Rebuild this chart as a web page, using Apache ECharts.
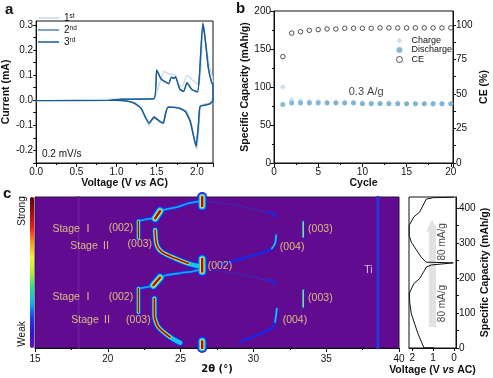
<!DOCTYPE html>
<html>
<head>
<meta charset="utf-8">
<style>
  html, body { margin: 0; padding: 0; background: #fff; }
  #main { width: 493px; height: 378px; }
</style>
<script src="https://cdn.jsdelivr.net/npm/echarts@6/dist/echarts.min.js"></script>
</head>
<body>
<div id="main"></div>
<script>
// panel a: CV curves [V, mA]
const cvCycle1 = [[0,-0.003],[0.3,0],[0.5,0.002],[0.8,0.003],[1.1,0.005],[1.3,0.005],[1.466,0.006],[1.53,0.06],[1.59,0.114],[1.65,0.105],[1.733,0.101],[1.775,0.06],[1.82,0.055],[1.876,0.1],[1.94,0.081],[2.02,0.061],[2.05,0.13],[2.075,0.3],[2.1,0.25],[2.155,0.134],[2.19,0.094],[2.2,0.02],[2.17,-0.01],[2.05,-0.02],[2.03,-0.09],[2.0,-0.197],[1.975,-0.165],[1.93,-0.09],[1.87,-0.042],[1.79,-0.03],[1.65,-0.026],[1.62,-0.05],[1.59,-0.09],[1.54,-0.083],[1.47,-0.065],[1.405,-0.103],[1.37,-0.075],[1.31,-0.03],[1.22,-0.01],[1.1,-0.002],[0.9,0]]
const cvCycle2 = [[0.9,0],[1.057,0.003],[1.466,0.006],[1.5,0.118],[1.556,0.084],[1.65,0.066],[1.68,0.09],[1.715,0.086],[1.733,0.092],[1.786,0.045],[1.835,0.035],[1.876,0.068],[1.94,0.042],[2.008,0.034],[2.03,0.09],[2.073,0.303],[2.1,0.25],[2.142,0.128],[2.184,0.07],[2.2,0.066],[2.2,0.002],[2.163,-0.015],[2.04,-0.025],[2.02,-0.09],[1.99,-0.18],[1.967,-0.155],[1.917,-0.085],[1.856,-0.045],[1.775,-0.032],[1.64,-0.028],[1.61,-0.052],[1.582,-0.09],[1.536,-0.083],[1.466,-0.067],[1.405,-0.09],[1.364,-0.07],[1.303,-0.032],[1.22,-0.012],[1.098,-0.003],[0.934,0]]
const cvCycle3 = [[0,-0.002],[0.934,-0.001],[1.057,0.004],[1.466,0.006],[1.5,0.12],[1.556,0.084],[1.65,0.065],[1.68,0.092],[1.715,0.088],[1.733,0.094],[1.786,0.044],[1.835,0.034],[1.876,0.07],[1.94,0.041],[2.008,0.033],[2.03,0.094],[2.073,0.307],[2.1,0.253],[2.142,0.127],[2.184,0.068],[2.2,0.065],[2.2,0],[2.163,-0.015],[2.04,-0.025],[2.02,-0.092],[1.99,-0.185],[1.967,-0.158],[1.917,-0.085],[1.856,-0.045],[1.775,-0.032],[1.64,-0.028],[1.61,-0.052],[1.582,-0.092],[1.536,-0.085],[1.466,-0.068],[1.405,-0.092],[1.364,-0.072],[1.303,-0.032],[1.22,-0.012],[1.098,-0.002],[0.934,0]]

// panel b: cycling
const cycles = [1,2,3,4,5,6,7,8,9,10,11,12,13,14,15,16,17,18,19,20]
const chargeCap = [100,83,82,81,81,80,80,80,80,79,79,79,79,79,78,78,78,78,78,78]
const dischargeCap = [77,79,79,79,79,79,79,79,79,78,78,78,78,78,78,78,78,78,78,78]
const coulombic = [77,94,95,96,96.5,97,97,97.5,97.5,97.5,97.5,97.8,97.8,97.8,97.8,97.8,97.8,97.8,97.8,97.8]

// panel c: ridges of the contour map [2theta, capacity]
const peak002Top = [[26.48,431],[26.48,405]]
const peak002Mid = [[26.48,254],[26.48,218]]
const peak002Bot = [[26.48,19],[26.48,0]]
const stage1Top = [[22.1,362],[22.1,314]]
const stage1Low = [[22.1,170],[22.1,102]]
const stage2Top = [[23.25,337],[23.36,294],[23.71,274],[24.62,256],[25.54,241],[26.2,234]]
const stage2Low = [[23.2,141],[23.2,93],[23.47,60],[24.28,31],[24.97,15]]
const blobTop = [[23.59,391],[23.25,370]]
const blobLow = [[23.59,201],[23.13,179]]
const bridgeTop = [[23.25,370],[22.68,368],[22.1,362]]
const bridgeLow = [[23.13,179],[22.68,174],[22.1,170]]
const arcTop = [[23.59,391],[24.14,397],[24.83,403],[25.52,413],[26.48,420]]
const arcLow = [[23.59,201],[24.05,208],[25.0,214],[25.86,219],[26.48,225]]
const faintTop = [[26.5,420],[27.71,413],[28.86,408],[29.98,397],[31.15,385]]
const faintLow = [[26.5,225],[27.71,219],[28.86,213],[29.98,203],[31.15,191]]
const blob31Top = [[31.1,388],[31.5,378]]
const blob31Low = [[31.1,194],[31.5,184]]
const peak003Top = [[33.42,360],[33.42,317]]
const peak003Low = [[33.42,165],[33.42,117]]
const line004Top = [[31.56,322],[31.49,299],[31.27,284],[30.46,270],[28.86,251],[27.71,238]]
const line004Low = [[31.61,112],[31.49,74],[31.27,57],[30.46,41],[29.09,17]]
const tiLine = [[38.55,0],[38.55,431]]
const faintLine18 = [[18,0],[18,431]]

const mapLabels = [
  [17.6,340,'Stage Ⅰ'],[18.83,291,'Stage Ⅱ'],[20.9,342,'(002)'],[22.2,296,'(003)'],
  [17.6,144,'Stage Ⅰ'],[18.9,79,'Stage Ⅱ'],[20.9,144,'(002)'],[22.1,81,'(003)'],
  [27.7,235,'(002)'],[34.6,339,'(003)'],[32.66,289,'(004)'],[34.6,141,'(003)'],[32.85,81,'(004)']
]
const tiLabel = [[37.9,222,'Ti']]

// panel d: galvanostatic curve [V, capacity]
const voltageCurve = [[0.956,0.5],[1.44,0.5],[1.73,41],[2.05,98],[2.12,127],[2.15,155],[1.93,184],[1.65,198],[1.41,222],[1.33,231],[1.08,237],[0.03,243],[1.33,245],[1.57,259],[2.05,302],[2.15,321],[2.15,350],[1.93,374],[1.65,388],[1.33,425],[1.0,429],[0,430.5]]
const rateLabels = [[0.54,303,'80 mA/g'],[0.54,127,'80 mA/g']]
const arrowFrom = [1.05,60]
const arrowTo = [1.05,350]

const colorbarColors = ['#6a10c0','#3010d0','#1a3cf0','#12b4ea','#2fd88a','#b6ea3a','#f8f030','#f89a20','#f01818','#a00c0c','#5a0606']

const sans = '"Liberation Sans", Arial, sans-serif'

function axisStyle(extra) {
  return Object.assign({
    axisLine: { show: true, onZero: false, lineStyle: { color: '#111', width: 1 } },
    axisTick: { show: true, length: 4, lineStyle: { color: '#111' } },
    axisLabel: { color: '#111', fontSize: 10, fontFamily: sans, margin: 3 },
    splitLine: { show: false },
    nameLocation: 'middle',
    nameTextStyle: { color: '#111', fontSize: 10.5, fontWeight: 'bold', fontFamily: sans }
  }, extra)
}

const voltageRich = { color: '#111', fontSize: 10.5, fontFamily: sans, rich: {
  n: { fontSize: 10.5, fontWeight: 'bold', fontFamily: sans, color: '#111' },
  i: { fontSize: 10.5, fontWeight: 'bold', fontStyle: 'italic', fontFamily: sans, color: '#111' }
} }
const voltageName = '{n|Voltage (V }{i|vs}{n| AC)}'

function merged(extra, ticks) {
  let a = axisStyle(extra)
  a.axisTick = Object.assign({}, a.axisTick, ticks.tick ? { customValues: ticks.tick, length: 3 } : {})
  a.axisLabel = Object.assign({}, a.axisLabel, ticks.label ? { customValues: ticks.label } : {}, extra.labelExtra || {})
  return a
}

let series = []

// panel a
series.push({ name: '1st', type: 'line', xAxisIndex: 0, yAxisIndex: 0, data: cvCycle1, smooth: 0.15, symbol: 'none', lineStyle: { color: '#c6d9ea', width: 1.3 }, itemStyle: { color: '#c6d9ea' }, z: 2 })
series.push({ name: '2nd', type: 'line', xAxisIndex: 0, yAxisIndex: 0, data: cvCycle2, smooth: 0.15, symbol: 'none', lineStyle: { color: '#4a87ba', width: 1.3 }, itemStyle: { color: '#4a87ba' }, z: 3 })
series.push({ name: '3rd', type: 'line', xAxisIndex: 0, yAxisIndex: 0, data: cvCycle3, smooth: 0.15, symbol: 'none', lineStyle: { color: '#195a94', width: 1.3 }, itemStyle: { color: '#195a94' }, z: 4 })

// panel b
series.push({ name: 'Charge', type: 'scatter', xAxisIndex: 1, yAxisIndex: 1, symbol: 'diamond', symbolSize: 6, data: cycles.map((c, i) => [c, chargeCap[i]]), itemStyle: { color: '#c3d8ec' }, z: 2 })
series.push({ name: 'Discharge', type: 'scatter', xAxisIndex: 1, yAxisIndex: 1, symbol: 'circle', symbolSize: 5, data: cycles.map((c, i) => [c, dischargeCap[i]]), itemStyle: { color: '#6ba9d0' }, z: 3 })
series.push({ name: 'CE', type: 'scatter', xAxisIndex: 1, yAxisIndex: 2, symbol: 'circle', symbolSize: 4.5, data: cycles.map((c, i) => [c, coulombic[i]]), itemStyle: { color: '#fff', borderColor: '#111', borderWidth: 0.9 }, z: 4 })
series.push({ type: 'scatter', xAxisIndex: 1, yAxisIndex: 1, symbolSize: 0, silent: true, data: [[12.4,93,'0.3 A/g']],
  label: { show: true, position: 'left', distance: 0, color: '#111', fontSize: 11, fontFamily: sans, formatter: p => p.value[2] } })

// panel c, the map is stacked coloured strokes: blue outside, dark red in the core
function ridge(points, color, width, z) {
  series.push({ type: 'line', xAxisIndex: 2, yAxisIndex: 3, data: points, symbol: 'none', silent: true, smooth: 0.25,
    lineStyle: { color: color, width: width, cap: 'round', join: 'round' }, z: z })
}
const bigBlobs = [peak002Top, peak002Mid, peak002Bot, blobTop, blobLow]
const stageTwo = [stage2Top, stage2Low]
const stageOne = [stage1Top, stage1Low]
const coolLinks = [arcTop, arcLow, bridgeTop, bridgeLow]

ridge(faintLine18, '#6c1c9a', 2, 2)
ridge(tiLine, '#2a35d8', 3, 2)
;[faintTop, faintLow].forEach(s => ridge(s, '#4a20a8', 1.6, 3))
;[line004Top, line004Low, peak003Top, peak003Low, blob31Top, blob31Low].forEach(s => ridge(s, '#2323dc', 3, 3))
coolLinks.forEach(s => ridge(s, '#2323e0', 4, 4))
coolLinks.forEach(s => ridge(s, '#1aa4ea', 1.8, 5))
// outer blue
bigBlobs.forEach(s => ridge(s, '#2323e0', 10, 4))
stageTwo.forEach(s => ridge(s, '#2323e0', 7, 4))
stageOne.forEach(s => ridge(s, '#2323e0', 6, 4))
// cyan and green
bigBlobs.forEach(s => ridge(s, '#18c4e6', 7, 5))
stageTwo.forEach(s => ridge(s, '#18c4e6', 4.6, 5))
stageOne.forEach(s => ridge(s, '#18c4e6', 3.6, 5))
;[peak003Top, peak003Low].forEach(s => ridge(s, '#2fd0c8', 1.6, 5))
ridge(line004Top.slice(0, 3), '#22b8e8', 1.8, 5)
ridge(line004Low.slice(0, 2), '#22b8e8', 1.8, 5)
// yellow
bigBlobs.forEach(s => ridge(s, '#eeea3c', 4.4, 6))
ridge(stage2Top.slice(0, 5), '#eeea3c', 3, 6)
ridge(stage2Low.slice(0, 4), '#eeea3c', 3, 6)
stageOne.forEach(s => ridge(s, '#eeea3c', 2.4, 6))
ridge(peak003Top, '#c8e850', 0.8, 6)
ridge(peak003Low, '#c8e850', 0.8, 6)
// dark red core
bigBlobs.forEach(s => ridge(s, '#a30d0d', 2.4, 7))
ridge(stage2Top.slice(0, 5), '#a30d0d', 1.6, 7)
ridge(stage2Low.slice(0, 4), '#a30d0d', 1.8, 7)
stageOne.forEach(s => ridge(s, '#8f1010', 1.4, 7))

series.push({ type: 'scatter', xAxisIndex: 2, yAxisIndex: 3, symbolSize: 0, silent: true, data: mapLabels, z: 10,
  label: { show: true, position: 'inside', color: '#f6e27a', fontSize: 10.5, fontFamily: sans + ', "Noto Sans CJK SC"', formatter: p => p.value[2] } })
series.push({ type: 'scatter', xAxisIndex: 2, yAxisIndex: 3, symbolSize: 0, silent: true, data: tiLabel, z: 10,
  label: { show: true, position: 'inside', color: '#f0f0f0', fontSize: 10.5, fontFamily: sans, formatter: p => p.value[2] } })

// panel d
series.push({ type: 'line', xAxisIndex: 3, yAxisIndex: 4, data: voltageCurve, symbol: 'none', silent: true,
  lineStyle: { color: '#111', width: 1 }, z: 3,
  markLine: { silent: true, animation: false, symbol: ['none', 'triangle'], symbolSize: [12, 12], label: { show: false },
    lineStyle: { color: '#e2e2e2', width: 7, type: 'solid' }, z: 1,
    data: [[{ coord: arrowFrom }, { coord: arrowTo }]] } })
series.push({ type: 'scatter', xAxisIndex: 3, yAxisIndex: 4, symbolSize: 0, silent: true, data: rateLabels,
  label: { show: true, position: 'inside', rotate: 90, color: '#111', fontSize: 10, fontFamily: sans, formatter: p => p.value[2] } })

// colour bar only
series.push({ type: 'scatter', xAxisIndex: 2, yAxisIndex: 3, data: [], silent: true })
const colorbarSeries = series.length - 1

const option = {
  animation: false,
  backgroundColor: '#fff',
  textStyle: { fontFamily: sans },
  grid: [
    { left: 34, top: 21, width: 179, height: 142, show: true, borderColor: '#111', borderWidth: 1, backgroundColor: 'transparent' },
    { left: 274, top: 11, width: 179, height: 152, show: true, borderColor: '#111', borderWidth: 1, backgroundColor: 'transparent' },
    { left: 35, top: 197, width: 364, height: 151, show: true, borderColor: '#2a1040', borderWidth: 1, backgroundColor: '#610c90' },
    { left: 409, top: 197, width: 47, height: 151, show: true, borderColor: '#111', borderWidth: 1, backgroundColor: 'transparent' }
  ],
  xAxis: [
    axisStyle({ gridIndex: 0, type: 'value', min: 0, max: 2.2, interval: 0.5, minorTick: { show: true, splitNumber: 2, length: 2 },
      name: voltageName, nameGap: 14, nameTextStyle: voltageRich, axisLabel: { color: '#111', fontSize: 10, fontFamily: sans, margin: 4, formatter: v => v.toFixed(1), showMaxLabel: false } }),
    axisStyle({ gridIndex: 1, type: 'value', min: 0, max: 20.25, interval: 5, minorTick: { show: true, splitNumber: 2, length: 2 }, name: 'Cycle', nameGap: 14, axisLabel: { color: '#111', fontSize: 10, fontFamily: sans, margin: 4, showMaxLabel: false } }),
    axisStyle({ gridIndex: 2, type: 'value', min: 15, max: 40, interval: 5, minorTick: { show: true, splitNumber: 2, length: 2 }, name: '2θ (°)', nameGap: 16, nameTextStyle: { color: '#111', fontSize: 10, fontWeight: 'bold', fontFamily: '"DejaVu Sans", sans-serif' }, axisLabel: { color: '#111', fontSize: 10, fontFamily: sans, margin: 6 } }),
    merged({ gridIndex: 3, type: 'value', inverse: true, min: -0.1, max: 2.16, name: voltageName, nameGap: 17, nameTextStyle: voltageRich, labelExtra: { margin: 5 } }, { tick: [0, 1, 2], label: [0, 1, 2] })
  ],
  yAxis: [
    merged({ gridIndex: 0, type: 'value', min: -0.25, max: 0.315, name: 'Current (mA)', nameGap: 18,
      labelExtra: { formatter: v => v.toFixed(1) } },
      { tick: [-0.25,-0.2,-0.15,-0.1,-0.05,0,0.05,0.1,0.15,0.2,0.25,0.3], label: [-0.2,-0.1,0,0.1,0.2,0.3] }),
    axisStyle({ gridIndex: 1, type: 'value', min: 0, max: 200, interval: 50, minorTick: { show: true, splitNumber: 2, length: 2 }, name: 'Specific Capacity (mAh/g)', nameGap: 22 }),
    merged({ gridIndex: 1, type: 'value', position: 'right', min: 0, max: 110, name: 'CE (%)', nameGap: 26 },
      { tick: [0,12.5,25,37.5,50,62.5,75,87.5,100], label: [0,25,50,75,100] }),
    { gridIndex: 2, type: 'value', min: 0, max: 431, show: false, splitLine: { show: false } },
    merged({ gridIndex: 3, type: 'value', position: 'right', min: 0, max: 431, name: 'Specific Capacity (mAh/g)', nameGap: 21 },
      { tick: [0,50,100,150,200,250,300,350,400], label: [0,100,200,300,400] })
  ],
  legend: [
    { data: ['1st','2nd','3rd'], left: 38, top: 13, orient: 'vertical', icon: 'rect', itemWidth: 21, itemHeight: 1.5, itemGap: 2, padding: 0,
      textStyle: { color: '#111', fontSize: 10, fontFamily: sans,
        rich: { b: { fontSize: 10, fontFamily: sans, color: '#111' }, s: { fontSize: 6.5, fontFamily: sans, color: '#111', verticalAlign: 'top', lineHeight: 10 } } },
      formatter: n => '{b|' + n[0] + '}{s|' + n.slice(1) + '}' },
    { data: ['Charge','Discharge',{ name: 'CE', itemStyle: { borderWidth: 0.9, color: '#fff', borderColor: '#111' } }], left: 396, top: 36, orient: 'vertical', itemWidth: 6, itemHeight: 6, itemGap: 0.5, padding: 0,
      textStyle: { color: '#111', fontSize: 9, fontFamily: sans, padding: [0, 0, 0, 4] } }
  ],
  visualMap: {
    type: 'continuous', seriesIndex: colorbarSeries, min: 0, max: 1, left: 30, top: 197, itemWidth: 4, itemHeight: 151,
    padding: 0, showLabel: false, calculable: false, realtime: false, hoverLink: false, inRange: { color: colorbarColors }
  },
  graphic: [
    { type: 'text', left: 5, top: 2, style: { text: 'a', font: 'bold 15px ' + sans, fill: '#111' } },
    { type: 'text', left: 236, top: 1, style: { text: 'b', font: 'bold 15px ' + sans, fill: '#111' } },
    { type: 'text', left: 3, top: 186, style: { text: 'c', font: 'bold 15px ' + sans, fill: '#111' } },
    { type: 'text', left: 42, top: 149, style: { text: '0.2 mV/s', font: '10px ' + sans, fill: '#111' } },
    { type: 'text', x: 22, y: 211, rotation: Math.PI / 2, style: { text: 'Strong', font: '10px ' + sans, fill: '#111', align: 'center', verticalAlign: 'middle' } },
    { type: 'text', x: 22, y: 334, rotation: Math.PI / 2, style: { text: 'Weak', font: '10px ' + sans, fill: '#111', align: 'center', verticalAlign: 'middle' } }
  ],
  series: series
}

const chart = echarts.init(document.getElementById('main'), null, { renderer: 'canvas' })
chart.setOption(option)
</script>
</body>
</html>
